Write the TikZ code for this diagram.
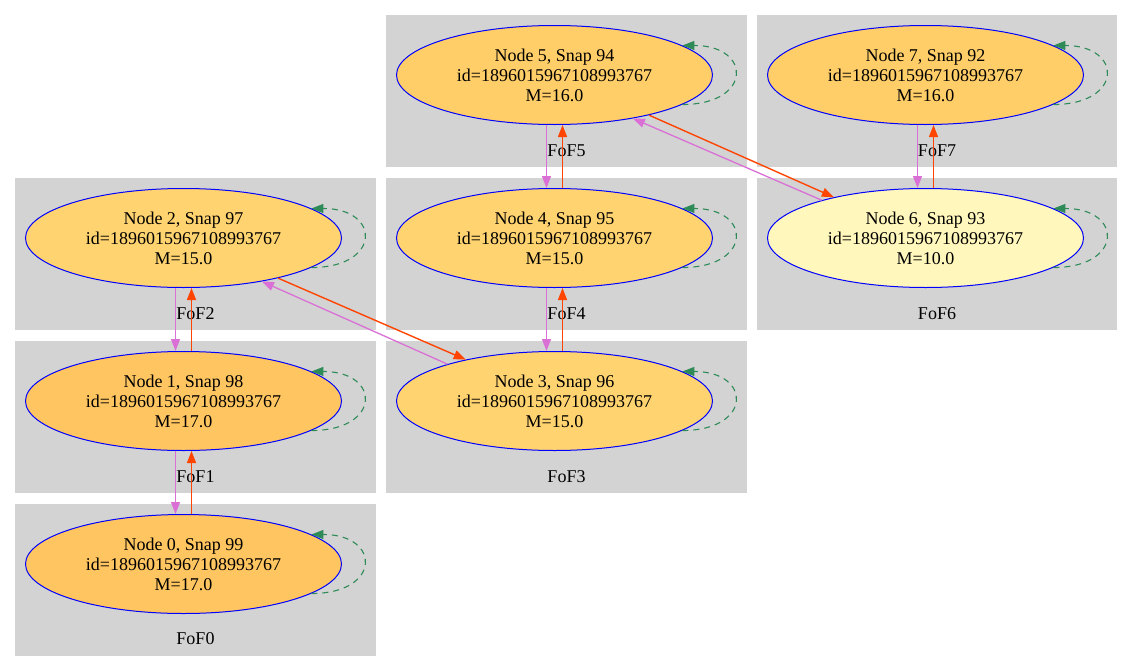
\documentclass[tikz,border=0pt]{standalone}
\usepackage{fontspec}
\setmainfont{Liberation Serif}
\usetikzlibrary{shapes.geometric,arrows.meta,calc}
\definecolor{clustergray}{HTML}{D3D3D3}
\definecolor{mseventeen}{HTML}{FFC560}
\definecolor{msixteen}{HTML}{FFCE68}
\definecolor{mfifteen}{HTML}{FFD470}
\definecolor{mten}{HTML}{FFF7BB}
\definecolor{edgeorange}{HTML}{FF4500}
\definecolor{edgeorchid}{HTML}{DA70D6}
\definecolor{loopgreen}{HTML}{2E8B57}
\tikzset{
  halo/.style={ellipse, draw=blue, line width=1pt, minimum width=316pt, minimum height=99pt,
    inner sep=0pt, align=center, font=\fontsize{18}{20}\selectfont},
  clusterbox/.style={fill=clustergray, draw=none},
  clusterlabel/.style={font=\fontsize{18}{20}\selectfont, inner sep=0pt},
  tip/.style={-{Triangle[length=12pt,width=9pt]}},
  upedge/.style={draw=edgeorange, line width=1.4pt, tip},
  downedge/.style={draw=edgeorchid, line width=1.3pt, tip},
  selfloop/.style={draw=loopgreen, line width=1.1pt, dash pattern=on 6pt off 5pt, tip}
}
\newcommand{\vpair}[2]{%
  \draw[downedge] ($(#2.south)+(-8,0)$) -- ($(#1.north)+(-8,0)$);
  \draw[upedge] ($(#1.north)+(8,0)$) -- ($(#2.south)+(8,0)$);
}
\begin{document}
\begin{tikzpicture}[x=1pt,y=-1pt]
\useasboundingbox (0,0) rectangle (1133,672);
\fill[white] (0,0) rectangle (1133,672);
% clusters
\path[clusterbox] (15,504) rectangle (376,656);
\path[clusterbox] (15,341) rectangle (376,493);
\path[clusterbox] (15,178) rectangle (376,330);
\path[clusterbox] (386,341) rectangle (747,493);
\path[clusterbox] (386,178) rectangle (747,330);
\path[clusterbox] (386,15) rectangle (747,167);
\path[clusterbox] (757,178) rectangle (1117,330);
\path[clusterbox] (757,15) rectangle (1117,167);
% cluster labels
\node[clusterlabel] (l0) at (195.5,639) {FoF0};
\node[clusterlabel] (l1) at (195.5,476.5) {FoF1};
\node[clusterlabel] (l2) at (195.5,313.5) {FoF2};
\node[clusterlabel] (l3) at (566.5,476.5) {FoF3};
\node[clusterlabel] (l4) at (566.5,313.5) {FoF4};
\node[clusterlabel] (l5) at (566.5,150.5) {FoF5};
\node[clusterlabel] (l6) at (937,313.5) {FoF6};
\node[clusterlabel] (l7) at (937,150.5) {FoF7};
% nodes
\node[halo, fill=mseventeen] (n0) at (183.5,564) {Node 0, Snap 99\\id=1896015967108993767\\M=17.0};
\node[halo, fill=mseventeen] (n1) at (183.5,401) {Node 1, Snap 98\\id=1896015967108993767\\M=17.0};
\node[halo, fill=mfifteen] (n2) at (183.5,238) {Node 2, Snap 97\\id=1896015967108993767\\M=15.0};
\node[halo, fill=mfifteen] (n3) at (554.5,401) {Node 3, Snap 96\\id=1896015967108993767\\M=15.0};
\node[halo, fill=mfifteen] (n4) at (554.5,238) {Node 4, Snap 95\\id=1896015967108993767\\M=15.0};
\node[halo, fill=msixteen] (n5) at (554.5,75) {Node 5, Snap 94\\id=1896015967108993767\\M=16.0};
\node[halo, fill=mten] (n6) at (925.5,238) {Node 6, Snap 93\\id=1896015967108993767\\M=10.0};
\node[halo, fill=msixteen] (n7) at (925.5,75) {Node 7, Snap 92\\id=1896015967108993767\\M=16.0};
% vertical edges (lower node, upper node)
\vpair{n0}{n1}
\vpair{n1}{n2}
\vpair{n3}{n4}
\vpair{n4}{n5}
\vpair{n6}{n7}
% diagonal edges
\draw[upedge] (n2.-23) -- (n3.155);
\draw[downedge] (n3.161) -- (n2.-29);
\draw[upedge] (n5.-23) -- (n6.156);
\draw[downedge] (n6.160) -- (n5.-29);
% self loops
\foreach \n in {n0,n1,n2,n3,n4,n5,n6,n7}{
  \draw[selfloop] (\n.-13) .. controls +(70,0) and +(70,0) .. (\n.13);
}
\end{tikzpicture}
\end{document}
